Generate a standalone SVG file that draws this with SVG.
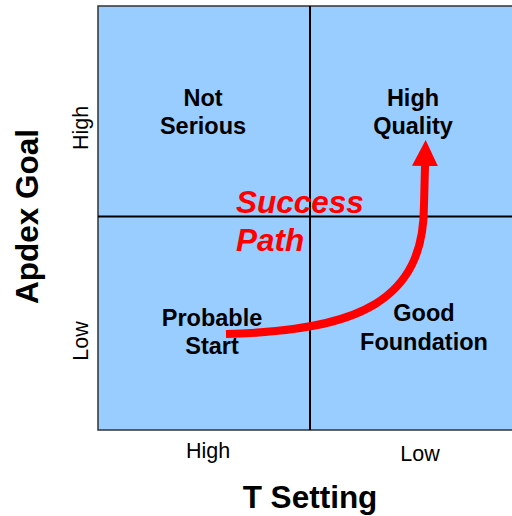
<svg xmlns="http://www.w3.org/2000/svg" width="512" height="516" viewBox="0 0 512 516">
<style>
.q{font-family:"Liberation Sans",Arial,sans-serif;font-weight:bold;font-size:23.5px;fill:#000;text-anchor:middle}
.ax{font-family:"Liberation Sans",Arial,sans-serif;font-size:21.5px;fill:#000;text-anchor:middle}
.title{font-family:"Liberation Sans",Arial,sans-serif;font-weight:bold;font-size:31.5px;fill:#000;text-anchor:middle}
.sp{font-family:"Liberation Sans",Arial,sans-serif;font-weight:bold;font-style:italic;font-size:31.5px;fill:#FF0000}
.div{stroke:#000;stroke-width:2;fill:none}
</style>
<defs>
<marker id="ah" markerUnits="userSpaceOnUse" markerWidth="26" markerHeight="26" refX="0" refY="12" orient="auto" viewBox="0 0 24 24">
<path d="M0,0 L24,12 L0,24 Z" fill="#FF0000"/>
</marker>
</defs>
<g id="grid">
<rect x="98" y="6" width="418" height="424" fill="#99CCFF" stroke="#333" stroke-width="1.5"/>
<line class="div" x1="310" y1="6" x2="310" y2="430"/>
<line class="div" x1="98" y1="216.5" x2="516" y2="216.5"/>
</g>
<g id="not-serious">
<text class="q" x="203" y="106">Not</text>
<text class="q" x="203" y="134">Serious</text>
</g>
<g id="high-quality">
<text class="q" x="413" y="106">High</text>
<text class="q" x="413" y="134">Quality</text>
</g>
<g id="probable-start">
<text class="q" x="212" y="326">Probable</text>
<text class="q" x="212" y="354">Start</text>
</g>
<g id="good-foundation">
<text class="q" x="424" y="321">Good</text>
<text class="q" x="424" y="350">Foundation</text>
</g>
<g id="axes">
<text class="ax" transform="translate(88,128) rotate(-90)">High</text>
<text class="ax" transform="translate(88,341) rotate(-90)">Low</text>
<text class="ax" x="208" y="458">High</text>
<text class="ax" x="420" y="461">Low</text>
<text class="title" transform="translate(38,216.5) rotate(-90)">Apdex Goal</text>
<text class="title" x="310" y="508">T Setting</text>
</g>
<g id="connectors">
<path d="M226,334 C360,331 424,300 424,205 L425,166" stroke="#FF0000" stroke-width="8" fill="none" marker-end="url(#ah)"/>
<text class="sp" x="236" y="213">Success</text>
<text class="sp" x="236" y="251">Path</text>
</g>
</svg>
